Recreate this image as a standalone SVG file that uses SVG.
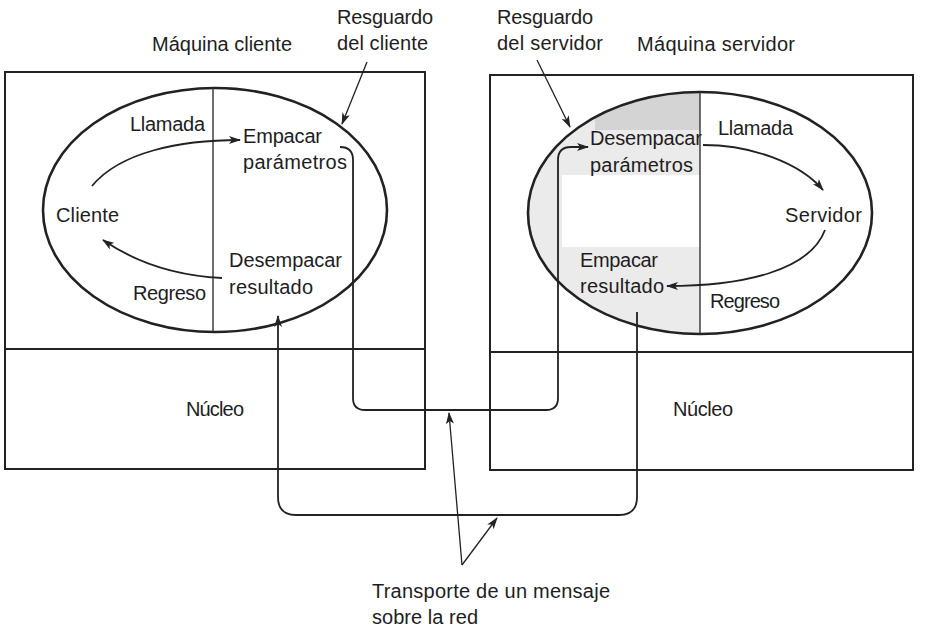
<svg xmlns="http://www.w3.org/2000/svg" width="928" height="632" viewBox="0 0 928 632">
<style>
text{font-family:"Liberation Sans",Arial,sans-serif;font-size:20px;fill:#1e1e1e}
.box{fill:none;stroke:#222;stroke-width:2}
.ell{fill:none;stroke:#222;stroke-width:2.6}
.div{stroke:#333;stroke-width:1.4;fill:none}
.arr{fill:none;stroke:#222;stroke-width:1.8;marker-end:url(#ah)}
.thin{fill:none;stroke:#222;stroke-width:1.3;marker-end:url(#ah)}
</style>
<defs>
<marker id="ah" viewBox="0 0 12 8" refX="11" refY="4" markerWidth="12" markerHeight="8" markerUnits="userSpaceOnUse" orient="auto">
<path d="M0,0 L12,4 L0,8 L3,4 Z" fill="#222"/>
</marker>
<clipPath id="rc"><ellipse cx="700" cy="213" rx="172" ry="121"/></clipPath>
</defs>
<rect width="928" height="632" fill="#fff"/>

<g id="maquina-cliente">
<rect class="box" x="5" y="72" width="420" height="397"/>
<line class="box" x1="5" y1="349" x2="425" y2="349"/>
<text x="152" y="51" textLength="140">Máquina cliente</text>
<text x="186" y="416" textLength="58">Núcleo</text>
</g>

<g id="maquina-servidor">
<rect class="box" x="490" y="75" width="423" height="395"/>
<line class="box" x1="490" y1="352" x2="913" y2="352"/>
<text x="637" y="51" textLength="158">Máquina servidor</text>
<text x="673" y="416" textLength="60">Núcleo</text>
</g>

<g id="proceso-cliente">
<ellipse class="ell" cx="215" cy="210" rx="172" ry="122"/>
<line class="div" x1="213" y1="88" x2="213" y2="332"/>
<text x="56" y="222" textLength="63">Cliente</text>
<text x="130" y="131" textLength="75">Llamada</text>
<text x="133" y="300" textLength="73">Regreso</text>
</g>

<g id="resguardo-cliente">
<text x="243" y="143" textLength="79">Empacar</text>
<text x="243" y="169" textLength="104">parámetros</text>
<text x="229" y="267" textLength="113">Desempacar</text>
<text x="229" y="294" textLength="84">resultado</text>
<text x="337" y="24" textLength="96">Resguardo</text>
<text x="337" y="50" textLength="91">del cliente</text>
</g>

<g id="resguardo-servidor">
<g clip-path="url(#rc)">
<rect x="528" y="90" width="172" height="250" fill="#ebebeb"/>
<rect x="595" y="90" width="105" height="40" fill="#d4d4d4"/>
<rect x="562" y="175" width="138" height="72" fill="#fff"/>
</g>
<text x="590" y="145" textLength="112">Desempacar</text>
<text x="590" y="172" textLength="103">parámetros</text>
<text x="580" y="267" textLength="78">Empacar</text>
<text x="580" y="293" textLength="84">resultado</text>
<text x="497" y="24" textLength="96">Resguardo</text>
<text x="497" y="50" textLength="106">del servidor</text>
</g>

<g id="proceso-servidor">
<ellipse class="ell" cx="700" cy="213" rx="172" ry="121"/>
<line class="div" x1="700" y1="92" x2="700" y2="334"/>
<text x="718" y="135" textLength="75">Llamada</text>
<text x="785" y="222" textLength="77">Servidor</text>
<text x="710" y="308" textLength="70">Regreso</text>
</g>

<g id="red">
<text x="372" y="598" textLength="238">Transporte de un mensaje</text>
<text x="372" y="624" textLength="106">sobre la red</text>
</g>

<g id="conectores">
<path class="arr" d="M92,186 C120,152 180,140 240,140"/>
<path class="arr" d="M222,278 C180,276 138,264 103,240"/>
<path class="arr" d="M703,145 C752,145 800,163 823,190"/>
<path class="arr" d="M825,230 C810,270 745,286 667,286"/>
<path class="arr" d="M340,147 Q353,147 353,160 L353,398 Q353,410 365,410 L546,410 Q558,410 558,398 L558,160 Q558,147 571,147 L588,147"/>
<path class="arr" d="M637,312 L637,497 Q637,515 619,515 L296,515 Q278,515 278,497 L278,316"/>
<path class="thin" d="M367,62 L342,124"/>
<path class="thin" d="M537,60 L570,127"/>
<path class="thin" d="M462,565 L449,413"/>
<path class="thin" d="M462,565 L497,518"/>
</g>
</svg>
